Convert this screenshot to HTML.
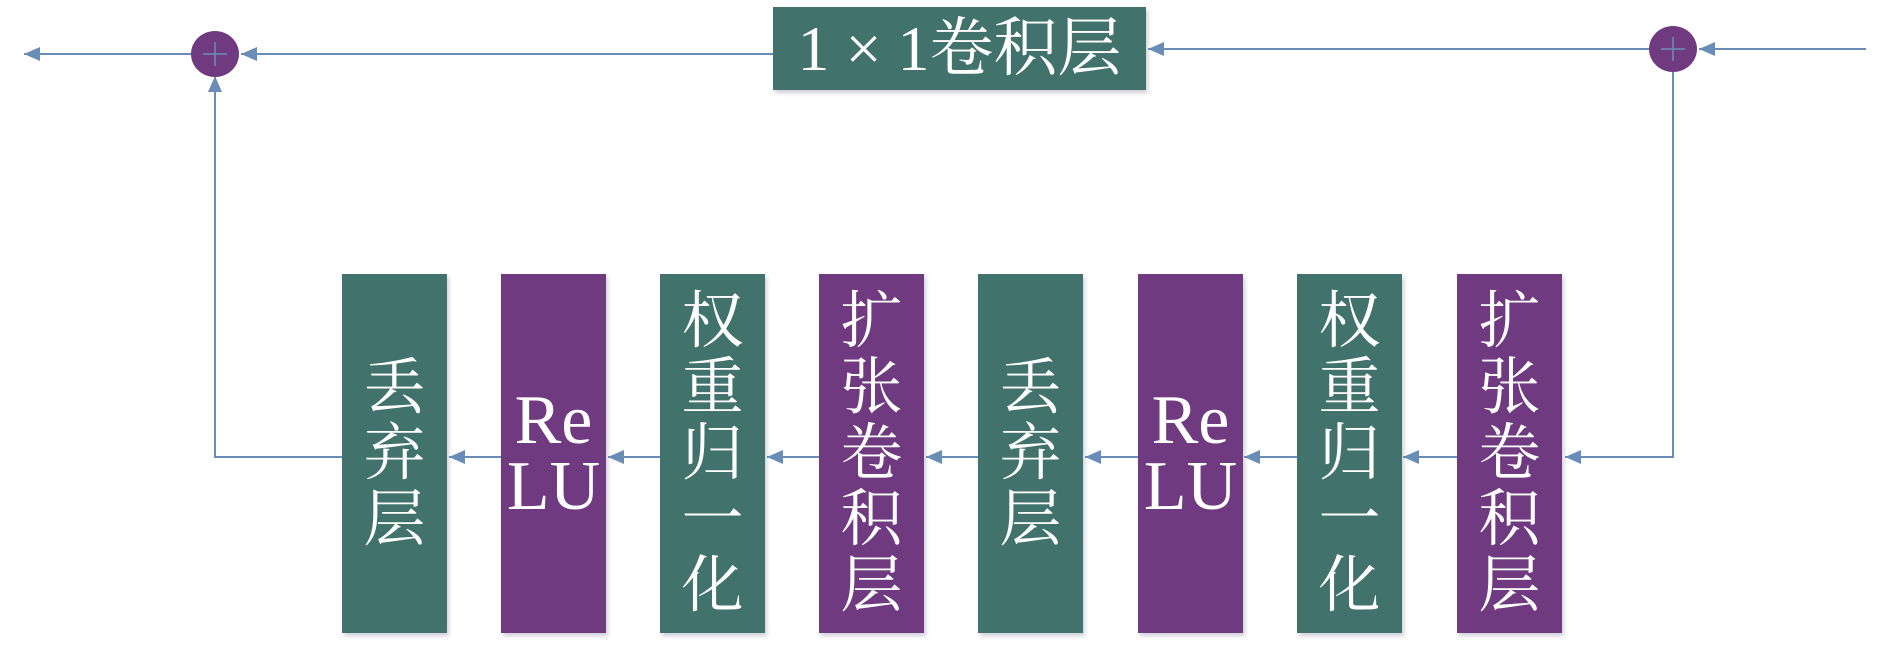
<!DOCTYPE html>
<html><head><meta charset="utf-8"><style>
html,body{margin:0;padding:0;background:#fff;width:1890px;height:650px;overflow:hidden;position:relative}
.b{position:absolute;top:274px;width:105px;height:359px;color:#fff;display:flex;align-items:center;justify-content:center;text-align:center;font-family:"Liberation Serif","Noto Serif CJK SC",serif;font-size:62px;line-height:66px;box-shadow:2px 3px 4px rgba(120,120,150,0.35)}
.g{background:#41736C}.p{background:#6F3A80}
.r{font-size:70px;line-height:66px}
.top{position:absolute;left:773px;top:7px;width:373px;height:83px;background:#41736C;color:#fff;font-family:"Liberation Serif","Noto Serif CJK SC",serif;font-size:64px;line-height:83px;text-align:center;box-shadow:2px 3px 4px rgba(120,120,150,0.35);white-space:nowrap}
svg{position:absolute;left:0;top:0}
</style></head><body>
<svg width="1890" height="650">
<defs>
<marker id="A" markerWidth="16" markerHeight="14" refX="16" refY="7" orient="auto" markerUnits="userSpaceOnUse"><path d="M0,0 L16,7 L0,14 z" fill="#6A8DB8"/></marker></defs>
<g stroke="#6A8DB8" stroke-width="2" fill="none">
<line x1="1866" y1="49" x2="1699" y2="49" marker-end="url(#A)"/>
<line x1="1649" y1="49" x2="1148" y2="49" marker-end="url(#A)"/>
<line x1="773" y1="54" x2="241" y2="54" marker-end="url(#A)"/>
<line x1="191" y1="54" x2="24" y2="54" marker-end="url(#A)"/>
<polyline points="1673,69 1673,457 1565,457" marker-end="url(#A)"/>
<polyline points="342,457 215,457 215,76" marker-end="url(#A)"/>
<line x1="1457" y1="457" x2="1403" y2="457" marker-end="url(#A)"/>
<line x1="1297" y1="457" x2="1244" y2="457" marker-end="url(#A)"/>
<line x1="1138" y1="457" x2="1085" y2="457" marker-end="url(#A)"/>
<line x1="978" y1="457" x2="926" y2="457" marker-end="url(#A)"/>
<line x1="819" y1="457" x2="767" y2="457" marker-end="url(#A)"/>
<line x1="660" y1="457" x2="608" y2="457" marker-end="url(#A)"/>
<line x1="501" y1="457" x2="449" y2="457" marker-end="url(#A)"/>
</g>
<ellipse cx="215" cy="54" rx="24" ry="23" fill="#6F3A80"/>
<ellipse cx="1673" cy="49" rx="24" ry="23" fill="#6F3A80"/>
<g stroke="#6A8DB8" stroke-width="1.5"><line x1="203" y1="54" x2="227" y2="54"/><line x1="215" y1="42" x2="215" y2="66"/>
<line x1="1661" y1="49" x2="1685" y2="49"/><line x1="1673" y1="37" x2="1673" y2="61"/></g>
</svg>
<div class="top">1 × 1卷积层</div>
<div class="b g" style="left:342px">丢<br>弃<br>层</div>
<div class="b p r" style="left:501px">Re<br>LU</div>
<div class="b g" style="left:660px">权<br>重<br>归<br>一<br>化</div>
<div class="b p" style="left:819px">扩<br>张<br>卷<br>积<br>层</div>
<div class="b g" style="left:978px">丢<br>弃<br>层</div>
<div class="b p r" style="left:1138px">Re<br>LU</div>
<div class="b g" style="left:1297px">权<br>重<br>归<br>一<br>化</div>
<div class="b p" style="left:1457px">扩<br>张<br>卷<br>积<br>层</div>
</body></html>
